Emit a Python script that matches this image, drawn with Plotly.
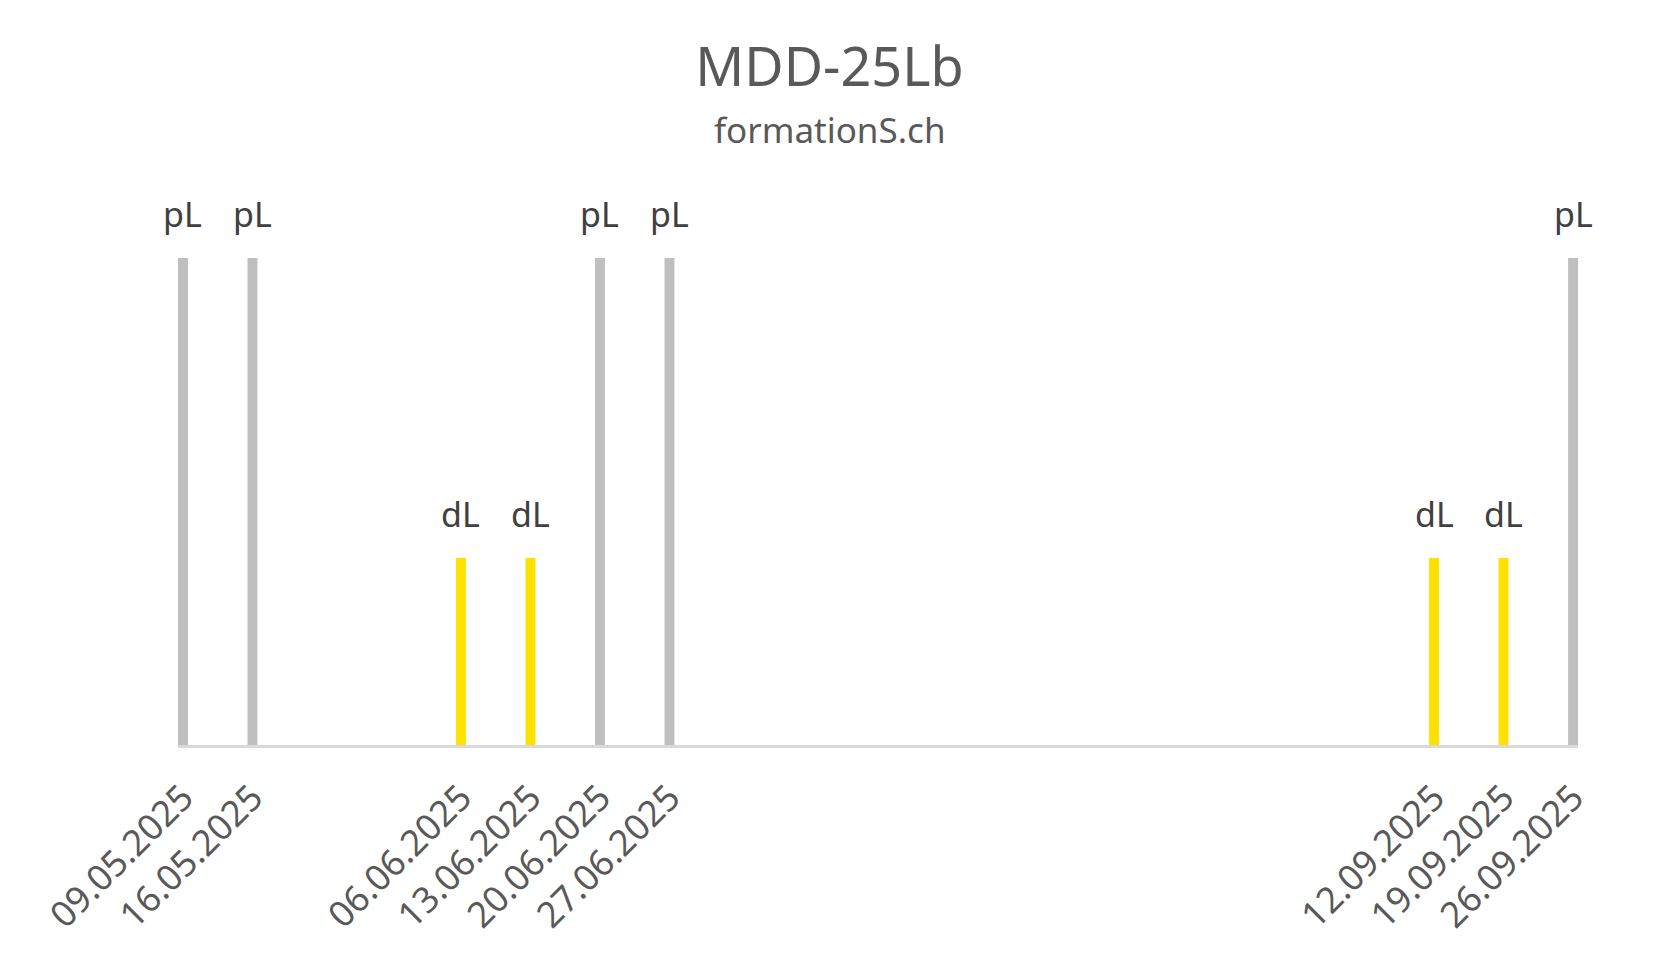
import plotly.graph_objects as go
from datetime import datetime, timedelta

pl_dates = ["2025-05-09", "2025-05-16", "2025-06-20", "2025-06-27", "2025-09-26"]
pl_values = [1.0, 1.0, 1.0, 1.0, 1.0]
dl_dates = ["2025-06-06", "2025-06-13", "2025-09-12", "2025-09-19"]
dl_values = [0.384, 0.384, 0.384, 0.384]
pl_label = "pL"
dl_label = "dL"
tick_dates = sorted(pl_dates + dl_dates)
tick_labels = [datetime.strptime(d, "%Y-%m-%d").strftime("%d.%m.%Y") for d in tick_dates]

DAY_MS = 86400000
FONT = "Noto Sans"
W, H = 1643, 954
L, R, T, B = 170, 73, 192, 217
plot_w = W - L - R
plot_h = H - T - B

fig = go.Figure()
fig.add_trace(go.Bar(x=pl_dates, y=pl_values, width=[DAY_MS] * len(pl_dates),
                     marker=dict(color="#bfbfbf", line=dict(width=0)), name=pl_label))
fig.add_trace(go.Bar(x=dl_dates, y=dl_values, width=[DAY_MS] * len(dl_dates),
                     marker=dict(color="#ffe100", line=dict(width=0)), name=dl_label))

for d, v in zip(pl_dates, pl_values):
    fig.add_annotation(x=d, y=v, text=pl_label, showarrow=False, yanchor="middle", yshift=44,
                       font=dict(family=FONT, size=34, color="#404040"))
for d, v in zip(dl_dates, dl_values):
    fig.add_annotation(x=d, y=v, text=dl_label, showarrow=False, yanchor="middle", yshift=44,
                       font=dict(family=FONT, size=34, color="#404040"))

fig.add_annotation(xref="paper", yref="paper", x=(W / 2 - L) / plot_w, y=1 + (T - 122) / plot_h,
                   text="formationS.ch", showarrow=False, xanchor="center", yanchor="middle",
                   font=dict(family=FONT, size=35, color="#595959"))

x0 = (datetime.strptime(tick_dates[0], "%Y-%m-%d") - timedelta(hours=12)).strftime("%Y-%m-%d %H:%M")
x1 = (datetime.strptime(tick_dates[-1], "%Y-%m-%d") + timedelta(hours=12)).strftime("%Y-%m-%d %H:%M")

fig.update_layout(
    width=W, height=H,
    paper_bgcolor="white", plot_bgcolor="white",
    margin=dict(l=L, r=R, t=T, b=B),
    showlegend=False,
    barmode="overlay",
    title=dict(text="MDD-25Lb", x=0.5, xanchor="center", y=1 - 59 / H, yanchor="middle",
               font=dict(family=FONT, size=54, color="#595959")),
    xaxis=dict(type="date", range=[x0, x1], tickvals=tick_dates, ticktext=tick_labels,
               tickangle=-45, showgrid=False, zeroline=False, showline=True,
               linecolor="#d9d9d9", linewidth=3, ticks="", ticklabelstandoff=14,
               tickfont=dict(family=FONT, size=36, color="#595959")),
    yaxis=dict(range=[0, plot_h / 487], visible=False, showgrid=False, zeroline=False),
)

fig.write_html("out.html")
